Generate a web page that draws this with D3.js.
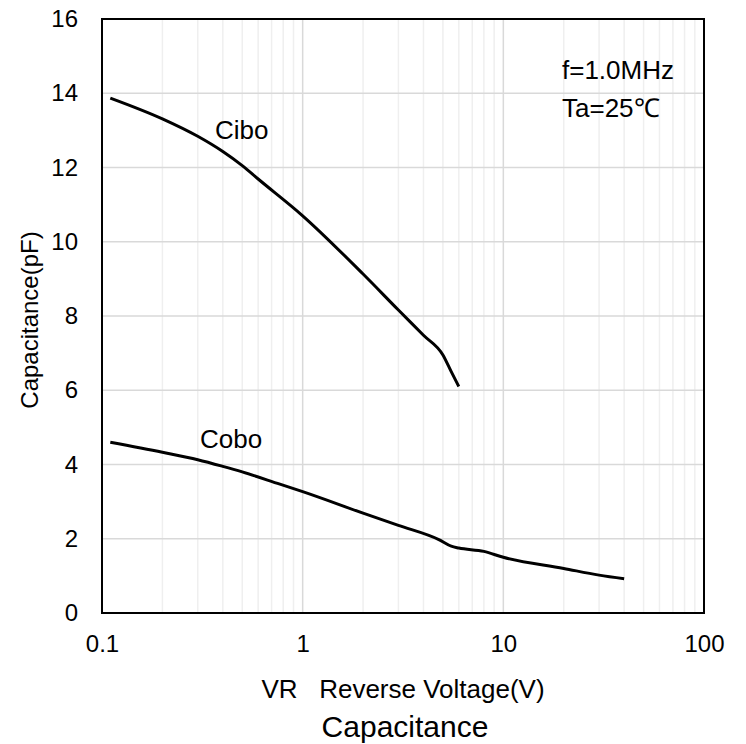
<!DOCTYPE html>
<html>
<head>
<meta charset="utf-8">
<script src="https://cdn.jsdelivr.net/npm/d3@7"></script>
<style>
  body { margin: 0; background: #fff; }
  text { font-family: "Liberation Sans", Arial, sans-serif; fill: #000; }
</style>
</head>
<body>
<div id="chart"></div>
<script>
// reverse voltage (V) and capacitance (pF)
const ciboV = [0.11, 0.2, 0.3, 0.4, 0.5, 0.6, 1, 2, 3, 4, 5, 5.5, 6];
const ciboC = [13.87, 13.31, 12.84, 12.43, 12.05, 11.69, 10.7, 9.13, 8.16, 7.48, 6.95, 6.5, 6.1];
const coboV = [0.11, 0.2, 0.3, 0.4, 0.5, 0.77, 1, 2, 3, 4.8, 5.5, 6, 8, 10, 20, 30, 40];
const coboC = [4.6, 4.33, 4.13, 3.95, 3.8, 3.47, 3.27, 2.69, 2.36, 1.97, 1.8, 1.75, 1.66, 1.5, 1.2, 1.02, 0.92];
const yTicks = [0, 2, 4, 6, 8, 10, 12, 14, 16];
const xTicks = [0.1, 1, 10, 100];

const W = 746, H = 744;
const margin = { top: 19, right: 42, bottom: 131, left: 102 };
const width = W - margin.left - margin.right;
const height = H - margin.top - margin.bottom;

const svg = d3.select('#chart')
  .append('svg')
  .attr('width', W)
  .attr('height', H);

const g = svg.append('g')
  .attr('transform', `translate(${margin.left},${margin.top})`);

const x = d3.scaleLog().domain([0.1, 100]).range([0, width]);
const y = d3.scaleLinear().domain([0, 16]).range([height, 0]);

// minor vertical grid
const minor = [];
[0.1, 1, 10].forEach(d => { for (let k = 2; k <= 9; k++) minor.push(d * k); });
g.selectAll('.minor')
  .data(minor)
  .enter()
  .append('line')
  .attr('x1', d => x(d)).attr('x2', d => x(d))
  .attr('y1', 0).attr('y2', height)
  .attr('stroke', '#efefef')
  .attr('stroke-width', 1.5);

// major grid
g.selectAll('.vmajor')
  .data([1, 10])
  .enter()
  .append('line')
  .attr('x1', d => x(d)).attr('x2', d => x(d))
  .attr('y1', 0).attr('y2', height)
  .attr('stroke', '#d9d9d9')
  .attr('stroke-width', 1.5);

g.selectAll('.hmajor')
  .data(yTicks.slice(1, -1))
  .enter()
  .append('line')
  .attr('x1', 0).attr('x2', width)
  .attr('y1', d => y(d)).attr('y2', d => y(d))
  .attr('stroke', '#d9d9d9')
  .attr('stroke-width', 1.5);

// axes, labels only
const yAxis = g.append('g')
  .call(d3.axisLeft(y).tickValues(yTicks).tickSize(0).tickPadding(24));
yAxis.select('.domain').remove();
yAxis.selectAll('text').attr('font-size', '24px').attr('font-family', '"Liberation Sans", Arial, sans-serif');

const xAxis = g.append('g')
  .attr('transform', `translate(0,${height})`)
  .call(d3.axisBottom(x).tickValues(xTicks).tickFormat(d3.format('')).tickSize(0).tickPadding(22));
xAxis.select('.domain').remove();
xAxis.selectAll('text').attr('font-size', '24px').attr('font-family', '"Liberation Sans", Arial, sans-serif');

// frame
g.append('rect')
  .attr('width', width).attr('height', height)
  .attr('fill', 'none')
  .attr('stroke', '#000')
  .attr('stroke-width', 2);

const line = d3.line()
  .x(d => x(d[0]))
  .y(d => y(d[1]))
  .curve(d3.curveMonotoneX);

g.append('path')
  .datum(ciboV.map((v, i) => [v, ciboC[i]]))
  .attr('d', line)
  .attr('fill', 'none')
  .attr('stroke', '#000')
  .attr('stroke-width', 3);

g.append('path')
  .datum(coboV.map((v, i) => [v, coboC[i]]))
  .attr('d', line)
  .attr('fill', 'none')
  .attr('stroke', '#000')
  .attr('stroke-width', 3);

// curve labels
svg.append('text').attr('x', 215).attr('y', 139).attr('font-size', '26px').text('Cibo');
svg.append('text').attr('x', 200).attr('y', 448).attr('font-size', '26px').text('Cobo');

// conditions
svg.append('text').attr('x', 562).attr('y', 79).attr('font-size', '26px').text('f=1.0MHz');
svg.append('text').attr('x', 562).attr('y', 117).attr('font-size', '26px').text('Ta=25℃');

// axis titles
svg.append('text')
  .attr('transform', `translate(38,320) rotate(-90)`)
  .attr('text-anchor', 'middle')
  .attr('font-size', '24px')
  .text('Capacitance(pF)');

svg.append('text')
  .attr('x', 403).attr('y', 698)
  .attr('text-anchor', 'middle')
  .attr('font-size', '26px')
  .attr('xml:space', 'preserve')
  .style('white-space', 'pre')
  .text('VR   Reverse Voltage(V)');

svg.append('text')
  .attr('x', 405).attr('y', 737)
  .attr('text-anchor', 'middle')
  .attr('font-size', '30px')
  .text('Capacitance');
</script>
</body>
</html>
